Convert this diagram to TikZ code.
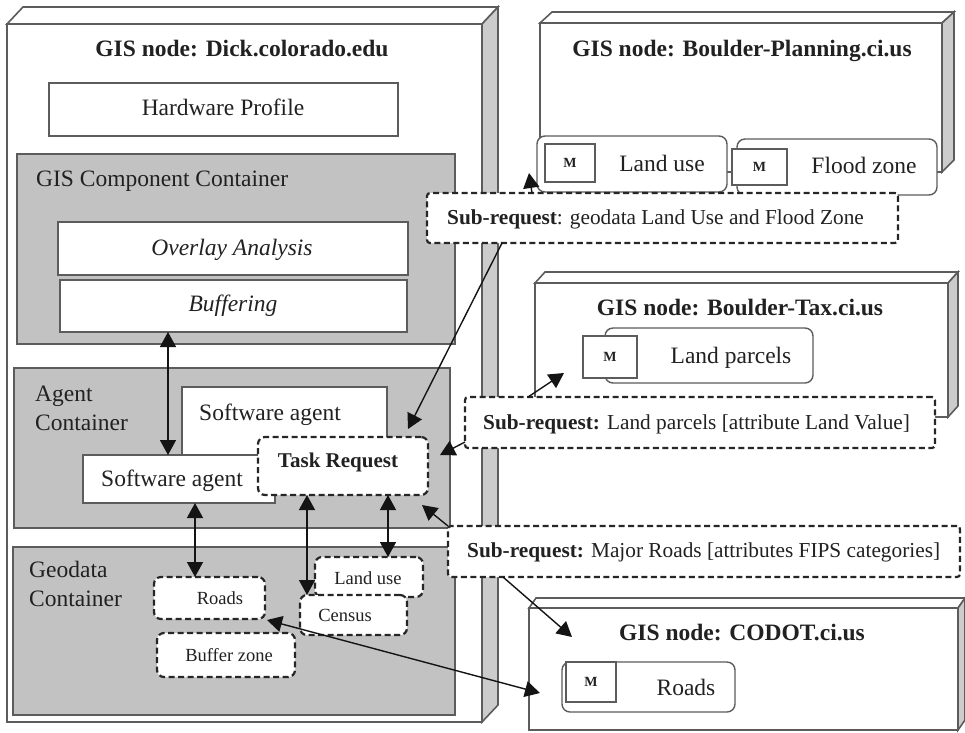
\documentclass[tikz,border=0pt]{standalone}
\usepackage{fontspec}
\setmainfont{Liberation Serif}
\usetikzlibrary{arrows.meta,fit}
\definecolor{contgrey}{gray}{0.76}
\definecolor{sidegrey}{gray}{0.80}
\definecolor{edgec}{gray}{0.36}
\definecolor{dashc}{gray}{0.15}
\definecolor{txt}{gray}{0.13}
\definecolor{linec}{gray}{0.08}
\begin{document}
\begin{tikzpicture}[x=1pt,y=-1pt,
  host/.style={draw=edgec, line width=1.6pt, line join=miter},
  hostface/.style={draw=edgec, line width=1.6pt, fill=white, inner sep=0pt, outer sep=0pt},
  plainbox/.style={draw=edgec, line width=1.6pt, fill=white, inner sep=0pt, outer sep=0pt},
  contbox/.style={draw=edgec, line width=1.6pt, fill=contgrey, inner sep=0pt, outer sep=0pt},
  compbox/.style={draw=edgec, line width=1.4pt, fill=white, rounded corners=8pt, inner sep=0pt, outer sep=0pt},
  mbox/.style={draw=edgec, line width=1.4pt, fill=white, inner sep=0pt, outer sep=0pt},
  dbox/.style={draw=dashc, line width=2.2pt, dash pattern=on 6pt off 3.5pt, fill=white, rounded corners=7pt, inner sep=0pt, outer sep=0pt},
  reqbox/.style={draw=dashc, line width=2.2pt, dash pattern=on 6pt off 3.5pt, fill=white, rounded corners=3pt, inner sep=0pt, outer sep=0pt},
  title/.style={font=\fontsize{23.5pt}{28pt}\selectfont\bfseries, text=txt, inner sep=0pt},
  lbl/.style={font=\fontsize{23.5pt}{29pt}\selectfont, text=txt, inner sep=0pt},
  small/.style={font=\fontsize{18.5pt}{22pt}\selectfont, text=txt, inner sep=0pt},
  req/.style={font=\fontsize{21.3pt}{26pt}\selectfont, text=txt, inner sep=0pt},
  mlab/.style={font=\fontsize{14pt}{16pt}\selectfont\bfseries, text=txt, inner sep=0pt},
  arr/.style={draw=linec, line width=1.4pt, -{Triangle[length=15pt,width=16pt]}},
  dbl/.style={draw=linec, line width=1.4pt, {Triangle[length=15pt,width=16pt]}-{Triangle[length=15pt,width=16pt]}}
]
\useasboundingbox (0,0) rectangle (965,732);

% ---------- host Dick.colorado.edu ----------
\draw[host, fill=white] (7,24) -- (23,7) -- (498,7) -- (482,24) -- cycle;
\draw[host, fill=sidegrey] (482,24) -- (498,7) -- (498,705) -- (482,722) -- cycle;
\node[hostface, fit={(7,24)(482,722)}] (dick) {};
\node[title, anchor=base] (dickt) at (242,56) {GIS node: Dick.colorado.edu};

\node[plainbox, fit={(49,83)(398,136)}] (hw) {};
\node[lbl, anchor=base] (hwt) at (223,115) {Hardware Profile};

% GIS component container
\node[contbox, fit={(17,154)(455,344)}] (gcc) {};
\node[lbl, anchor=base west] (gcct) at (36,186) {GIS Component Container};
\node[plainbox, fit={(58,222)(408,275)}] (ovl) {};
\node[lbl, anchor=base] (ovlt) at (232,255) {\itshape Overlay Analysis};
\node[plainbox, fit={(60,280)(407,332)}] (buf) {};
\node[lbl, anchor=base] (buft) at (233,311) {\itshape Buffering};

% agent container
\node[contbox, fit={(14,368)(450,528)}] (agc) {};
\node[lbl, anchor=west, align=left] (agct) at (35,408) {Agent\\Container};
\node[plainbox, fit={(182,387)(387,457)}] (sa2) {};
\node[lbl, anchor=base west] (sa2t) at (199,420) {Software agent};
\node[plainbox, fit={(83,455)(275,503)}] (sa1) {};
\node[lbl, anchor=base west] (sa1t) at (101,486) {Software agent};
\node[dbox, fit={(258,437)(428,495)}] (task) {};
\node[title, font=\fontsize{21pt}{25pt}\selectfont\bfseries, anchor=base] (taskt) at (338,467) {Task Request};

% geodata container
\node[contbox, fit={(13,547)(455,715)}] (gdc) {};
\node[lbl, anchor=west, align=left] (gdct) at (29,584) {Geodata\\Container};
\node[dbox, fit={(154,577)(265,619)}] (groads) {};
\node[small, anchor=base] (groadst) at (220,604) {Roads};
\node[dbox, fit={(157,633)(295,677)}] (gbuf) {};
\node[small, anchor=base] (gbuft) at (229,661) {Buffer zone};
\node[dbox, fit={(315,557)(423,597)}] (glu) {};
\node[small, anchor=base] (glut) at (368,584) {Land use};
\node[dbox, fit={(300,595)(407,635)}] (gcen) {};
\node[small, anchor=base] (gcent) at (345,621) {Census};

% ---------- host Boulder-Planning.ci.us ----------
\draw[host, fill=white] (540,23) -- (552,12) -- (954,12) -- (942,23) -- cycle;
\draw[host, fill=sidegrey] (942,23) -- (954,12) -- (954,160) -- (942,172) -- cycle;
\node[hostface, fit={(540,23)(942,172)}] (bp) {};
\node[title, anchor=base] (bpt) at (742,56) {GIS node: Boulder-Planning.ci.us};
\node[compbox, fit={(537,136)(727,192)}] (lu1) {};
\node[mbox, fit={(545,144)(595,182)}] (mlu1) {};
\node[mlab] at (mlu1) {M};
\node[lbl, anchor=base] (lu1t) at (662,171) {Land use};
\node[compbox, fit={(737,139)(937,195)}] (fz) {};
\node[mbox, fit={(732,149)(787,185)}] (mfz) {};
\node[mlab] at (mfz) {M};
\node[lbl, anchor=base] (fzt) at (864,173) {Flood zone};

% ---------- host Boulder-Tax.ci.us ----------
\draw[host, fill=white] (535,283) -- (545,272) -- (958,272) -- (948,283) -- cycle;
\draw[host, fill=sidegrey] (948,283) -- (958,272) -- (958,406) -- (948,417) -- cycle;
\node[hostface, fit={(535,283)(948,417)}] (bt) {};
\node[title, anchor=base] (btt) at (740,315) {GIS node: Boulder-Tax.ci.us};
\node[compbox, fit={(605,328)(813,383)}] (lp) {};
\node[mbox, fit={(583,336)(637,378)}] (mlp) {};
\node[mlab] at (mlp) {M};
\node[lbl, anchor=base] (lpt) at (731,363) {Land parcels};

% ---------- host CODOT.ci.us ----------
\draw[host, fill=white] (529,608) -- (536,598) -- (965,598) -- (958,608) -- cycle;
\draw[host, fill=sidegrey] (958,608) -- (965,598) -- (965,720) -- (958,730) -- cycle;
\node[hostface, fit={(529,608)(958,730)}] (codot) {};
\node[title, anchor=base] (codott) at (742,640) {GIS node: CODOT.ci.us};
\node[compbox, fit={(562,662)(735,712)}] (croads) {};
\node[mbox, fit={(566,662)(616,702)}] (mcr) {};
\node[mlab] at (mcr) {M};
\node[lbl, anchor=base] (croadst) at (686,695) {Roads};

% ---------- sub-requests ----------
\node[reqbox, fit={(427,193)(898,243)}] (sub1) {};
\node[req, anchor=base west] (sub1t) at (447,224) {\textbf{Sub-request}: geodata Land Use and Flood Zone};
\node[reqbox, fit={(465,397)(935,448)}] (sub2) {};
\node[req, anchor=base west] (sub2t) at (483,429) {\textbf{Sub-request:} Land parcels [attribute Land Value]};
\node[reqbox, fit={(448,526)(960,577)}] (sub3) {};
\node[req, anchor=base west] (sub3t) at (467,557) {\textbf{Sub-request:} Major Roads [attributes FIPS categories]};

% ---------- connectors ----------
\draw[dbl] ([xshift=108pt]buf.south west) -- ([xshift=85pt]sa1.north west);
\draw[dbl] ([xshift=112pt]sa1.south west) -- ([xshift=41pt]groads.north west);
\draw[dbl] ([xshift=49pt]task.south west) -- ([xshift=7pt]gcen.north west);
\draw[dbl] ([xshift=130pt]task.south west) -- ([xshift=73pt]glu.north west);
\draw[dbl] ([shift={(2,1)}]groads.south east) -- ([shift={(-22,6)}]croads.west);
\draw[arr] ([xshift=75pt]sub1.south west) -- ([shift={(-20,-8)}]task.north east);
\draw[arr] ([xshift=105pt]sub1.north west) -- ([shift={(-8,9)}]lu1.west);
\draw[arr] ([xshift=63pt]sub2.north west) -- ([shift={(-19,-5)}]mlp.south west);
\draw[arr] ([yshift=6pt]sub2.south west) -- ([shift={(12,-11)}]task.east);
\draw[arr] (sub3.north west) -- ([shift={(-6,10)}]task.south east);
\draw[arr] ([xshift=55pt]sub3.south west) -- ([shift={(43,29)}]codot.north west);
\end{tikzpicture}
\end{document}
